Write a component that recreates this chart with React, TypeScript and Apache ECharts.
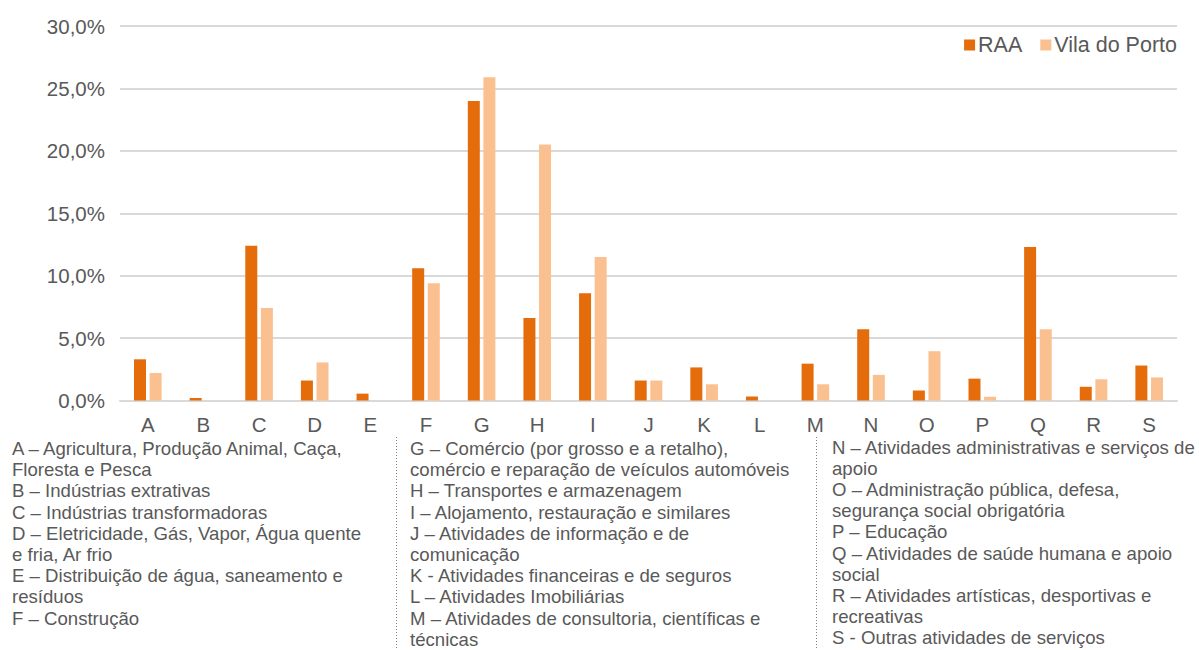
import React, { useEffect, useRef } from "react";
import * as echarts from "echarts";

const categories = ["A","B","C","D","E","F","G","H","I","J","K","L","M","N","O","P","Q","R","S"];
const raa = [3.3,0.2,12.4,1.6,0.55,10.6,24.0,6.6,8.6,1.6,2.65,0.32,2.95,5.7,0.8,1.75,12.3,1.1,2.8];
const vilaDoPorto = [2.2,0,7.4,3.05,0,9.4,25.9,20.5,11.5,1.6,1.3,0,1.3,2.05,3.95,0.3,5.7,1.7,1.85];
const yTicks = { min: 0, max: 30, interval: 5 };

const col1 = [
  "A – Agricultura, Produção Animal, Caça,",
  "Floresta e Pesca",
  "B – Indústrias extrativas",
  "C – Indústrias transformadoras",
  "D – Eletricidade, Gás, Vapor, Água quente",
  "e fria, Ar frio",
  "E – Distribuição de água, saneamento e",
  "resíduos",
  "F – Construção",
];
const col2 = [
  "G – Comércio (por grosso e a retalho),",
  "comércio e reparação de veículos automóveis",
  "H – Transportes e armazenagem",
  "I – Alojamento, restauração e similares",
  "J – Atividades de informação e de",
  "comunicação",
  "K - Atividades financeiras e de seguros",
  "L – Atividades Imobiliárias",
  "M – Atividades de consultoria, científicas e",
  "técnicas",
];
const col3 = [
  "N – Atividades administrativas e serviços de",
  "apoio",
  "O – Administração pública, defesa,",
  "segurança social obrigatória",
  "P – Educação",
  "Q – Atividades de saúde humana e apoio",
  "social",
  "R – Atividades artísticas, desportivas e",
  "recreativas",
  "S - Outras atividades de serviços",
];

const TEXT = "#595959";
const FONT = "'Liberation Sans', Arial, sans-serif";

export default function App() {
  const ref = useRef<HTMLDivElement>(null);
  useEffect(() => {
    document.body.style.margin = "0";
    const chart = echarts.init(ref.current!, null, { renderer: "svg" });
    const lineH = 21.2;
    const mkCol = (lines: string[], x: number, y0: number) =>
      lines.map((t, i) => ({
        type: "text",
        left: x,
        top: y0 + i * lineH,
        style: { text: t, fill: TEXT, font: `18.6px ${FONT}` },
      }));
    const graphics: any[] = [
      ...mkCol(col1, 12, 439),
      ...mkCol(col2, 410, 439),
      ...mkCol(col3, 832, 437.5),
      {
        type: "line",
        shape: { x1: 396.5, y1: 437, x2: 396.5, y2: 650 },
        style: { stroke: "#7f7f7f", lineWidth: 1, lineDash: [1, 2] },
      },
      {
        type: "line",
        shape: { x1: 816.5, y1: 437, x2: 816.5, y2: 650 },
        style: { stroke: "#7f7f7f", lineWidth: 1, lineDash: [1, 2] },
      },
    ];
    chart.setOption({
      animation: false,
      textStyle: { fontFamily: FONT },
      grid: { left: 120, right: 22, top: 26, bottom: 249.5, containLabel: false },
      legend: {
        data: ["RAA", "Vila do Porto"],
        right: 17,
        top: 29,
        itemWidth: 11,
        itemHeight: 11,
        itemGap: 18,
        icon: "rect",
        textStyle: { color: TEXT, fontSize: 21.5, fontFamily: FONT, padding: [0, 0, 0, -2] },
      },
      xAxis: {
        type: "category",
        data: categories,
        axisLine: { lineStyle: { color: "#D9D9D9", width: 2 } },
        axisTick: { show: false },
        axisLabel: { color: TEXT, fontSize: 20.5, margin: 13, fontFamily: FONT },
      },
      yAxis: {
        type: "value",
        min: yTicks.min,
        max: yTicks.max,
        interval: yTicks.interval,
        axisLine: { show: false },
        axisTick: { show: false },
        splitLine: { lineStyle: { color: "#D9D9D9", width: 2 } },
        axisLabel: {
          color: TEXT,
          fontSize: 20.5,
          margin: 15,
          fontFamily: FONT,
          formatter: (v: number) => v.toFixed(1).replace(".", ",") + "%",
        },
      },
      series: [
        {
          name: "RAA",
          type: "bar",
          data: raa,
          barWidth: 12,
          barGap: "30%",
          itemStyle: { color: "#E46C0A" },
        },
        {
          name: "Vila do Porto",
          type: "bar",
          data: vilaDoPorto,
          barWidth: 12,
          itemStyle: { color: "#FAC090" },
        },
      ],
      graphic: graphics,
    });
    return () => chart.dispose();
  }, []);
  return <div ref={ref} style={{ position: "absolute", left: 0, top: 0, width: 1199, height: 650 }} />;
}
